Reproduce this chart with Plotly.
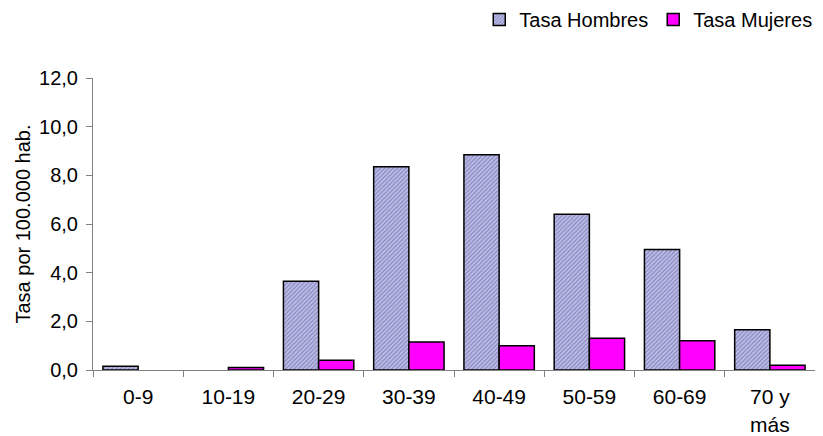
import plotly.graph_objects as go

grupos = ["0-9", "10-19", "20-29", "30-39", "40-49", "50-59", "60-69", "70 y<br>más"]
tasa_hombres = [0.15, None, 3.65, 8.35, 8.85, 6.4, 4.95, 1.65]
tasa_mujeres = [None, 0.1, 0.4, 1.15, 1.0, 1.3, 1.2, 0.2]
y_ticks = [0, 2, 4, 6, 8, 10, 12]

FONT = "Liberation Sans, Arial, sans-serif"

fig = go.Figure()
fig.add_trace(go.Bar(
    x=grupos, y=tasa_hombres, name="Tasa Hombres",
    marker=dict(
        color="#A8A8D8",
        pattern=dict(shape="/", fgcolor="#50508A", bgcolor="#BEBEEA", size=3, solidity=0.4),
        line=dict(color="black", width=1.5),
    ),
))
fig.add_trace(go.Bar(
    x=grupos, y=tasa_mujeres, name="Tasa Mujeres",
    marker=dict(color="#FF00FF", line=dict(color="black", width=1.5)),
))

# the page body adds an 8px margin, so the figure is drawn 8px smaller
fig.update_layout(
    width=815, height=428,
    margin=dict(l=85, r=8, t=70, b=66, autoexpand=False),
    paper_bgcolor="white", plot_bgcolor="white",
    font=dict(family=FONT, size=20, color="black"),
    barmode="group", bargap=0.22, bargroupgap=0,
    separators=",.",
    showlegend=True,
    legend=dict(orientation="h", x=0.535, xanchor="left", y=1.2, yanchor="middle",
                font=dict(size=20), traceorder="normal", itemwidth=30,
                bgcolor="rgba(0,0,0,0)"),
)
fig.update_xaxes(
    showline=True, linecolor="#808080", linewidth=1,
    ticks="outside", tickson="boundaries", ticklen=6, tickcolor="#808080",
    tickfont=dict(size=21), ticklabelstandoff=8,
    showgrid=False, automargin=False,
)
fig.update_yaxes(
    range=[0, 12], tickvals=y_ticks, tickformat=".1f",
    showline=True, linecolor="#808080", linewidth=1,
    ticks="outside", ticklen=6, tickcolor="#808080",
    tickfont=dict(size=20), ticklabelstandoff=4,
    showgrid=False, zeroline=False, automargin=False,
    title=dict(text="Tasa por 100.000 hab.", font=dict(size=20), standoff=3),
)

fig.write_html("out.html")
